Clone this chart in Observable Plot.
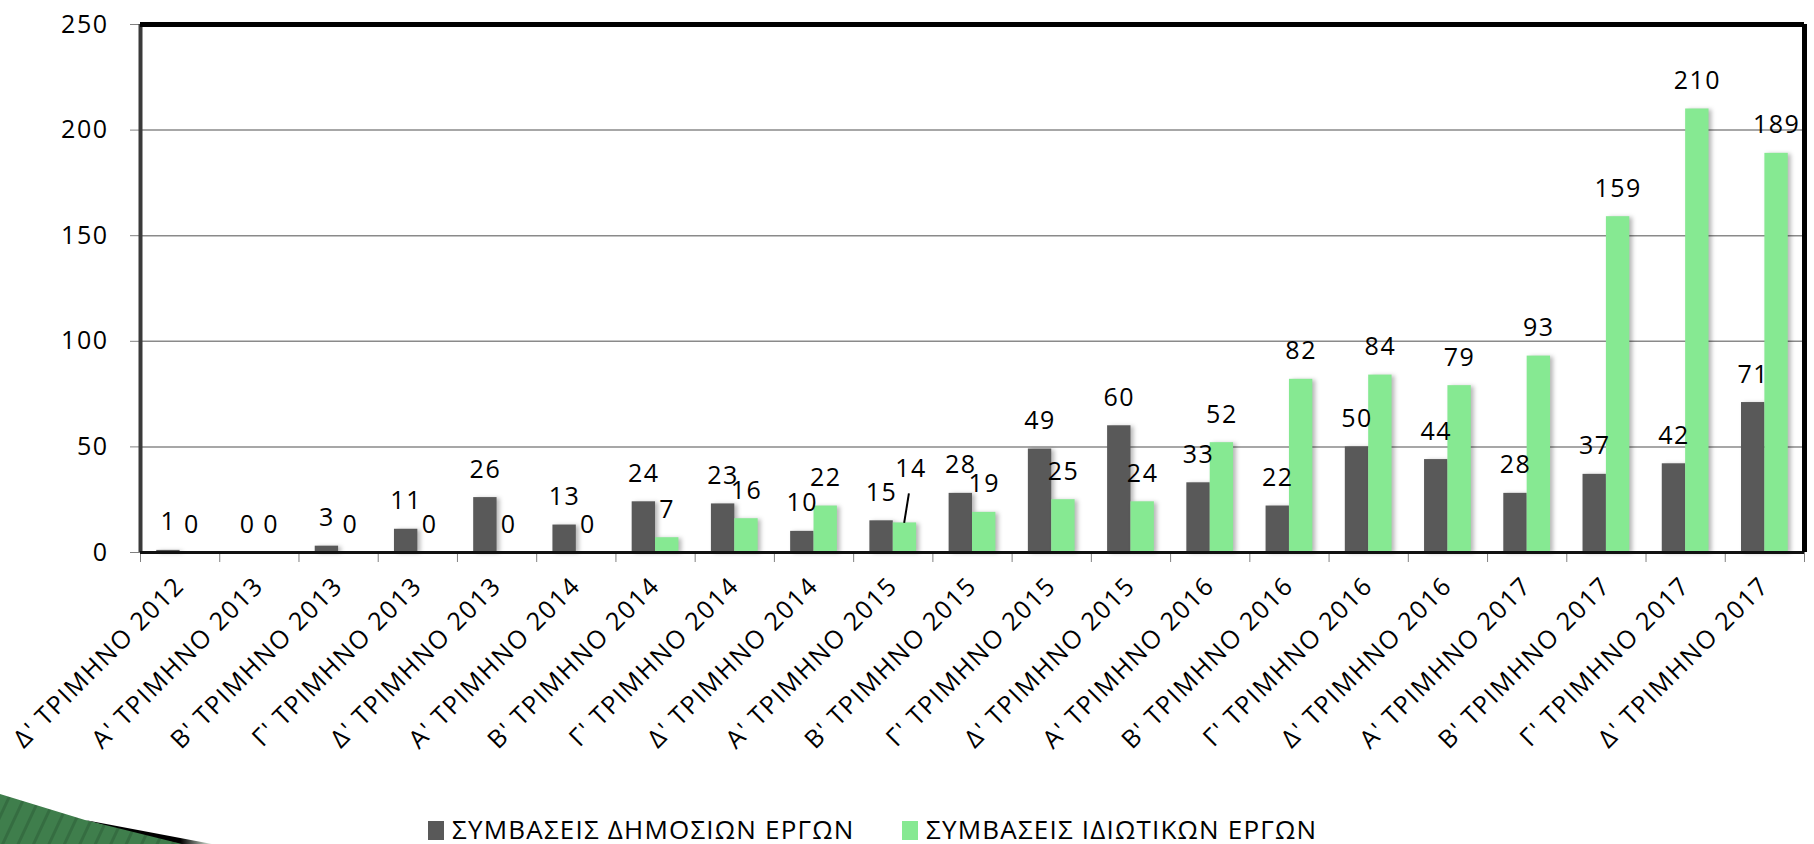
<!DOCTYPE html>
<html>
<head>
<meta charset="utf-8">
<script src="https://cdn.jsdelivr.net/npm/d3@7"></script>
<script src="https://cdn.jsdelivr.net/npm/@observablehq/plot@0.6"></script>
<style>
  html, body { margin: 0; padding: 0; background: #fff; overflow: hidden; }
  #wrap { position: relative; width: 1814px; height: 844px; font-family: "Open Sans", sans-serif; }
  #chart svg { display: block; }
  #chart text { letter-spacing: 1.5px; }
  #chart g[aria-label="x-axis tick label"] text { letter-spacing: 1.6px; }
  #chart g[aria-label="rect"] rect { filter: drop-shadow(3px 1px 2px rgba(0,0,0,0.28)); }
  #legend { position: absolute; left: 0; top: 815px; width: 1814px; height: 29px; }
  .item { position: absolute; top: 0; display: flex; align-items: center; height: 28px; }
  .sw { width: 16px; height: 19px; margin-right: 8px; margin-top: 2px; }
  .lt { font-size: 26px; line-height: 28px; letter-spacing: 1.2px; color: #000; white-space: nowrap; }
  #deco { position: absolute; left: 0; top: 780px; }
</style>
</head>
<body>
<div id="wrap">
  <div id="chart"></div>
  <div id="legend"></div>
  <svg id="deco" width="260" height="64" viewBox="0 0 260 64">
    <defs>
      <pattern id="stripes" width="14" height="14" patternUnits="userSpaceOnUse" patternTransform="rotate(25)">
        <rect width="14" height="14" fill="#3f7e4c"/>
        <rect width="3" height="14" fill="#356d41"/>
      </pattern>
      <linearGradient id="fade" x1="0" x2="1" y1="0" y2="0">
        <stop offset="0" stop-color="#000"/>
        <stop offset="0.75" stop-color="#000"/>
        <stop offset="1" stop-color="#dfeee0"/>
      </linearGradient>
    </defs>
    <polygon points="85,40 212,64 170,64" fill="url(#fade)"/>
    <polygon points="0,14 85,40 182,64 0,64" fill="url(#stripes)"/>
  </svg>
</div>
<script>
const categories = [
  "Δ' ΤΡΙΜΗΝΟ 2012",
  "Α' ΤΡΙΜΗΝΟ 2013", "Β' ΤΡΙΜΗΝΟ 2013", "Γ' ΤΡΙΜΗΝΟ 2013", "Δ' ΤΡΙΜΗΝΟ 2013",
  "Α' ΤΡΙΜΗΝΟ 2014", "Β' ΤΡΙΜΗΝΟ 2014", "Γ' ΤΡΙΜΗΝΟ 2014", "Δ' ΤΡΙΜΗΝΟ 2014",
  "Α' ΤΡΙΜΗΝΟ 2015", "Β' ΤΡΙΜΗΝΟ 2015", "Γ' ΤΡΙΜΗΝΟ 2015", "Δ' ΤΡΙΜΗΝΟ 2015",
  "Α' ΤΡΙΜΗΝΟ 2016", "Β' ΤΡΙΜΗΝΟ 2016", "Γ' ΤΡΙΜΗΝΟ 2016", "Δ' ΤΡΙΜΗΝΟ 2016",
  "Α' ΤΡΙΜΗΝΟ 2017", "Β' ΤΡΙΜΗΝΟ 2017", "Γ' ΤΡΙΜΗΝΟ 2017", "Δ' ΤΡΙΜΗΝΟ 2017"
];
const publicWorks  = [1, 0, 3, 11, 26, 13, 24, 23, 10, 15, 28, 49, 60, 33, 22, 50, 44, 28, 37, 42, 71];
const privateWorks = [0, 0, 0, 0, 0, 0, 7, 16, 22, 14, 19, 25, 24, 52, 82, 84, 79, 93, 159, 210, 189];
const seriesNames  = ["ΣΥΜΒΑΣΕΙΣ ΔΗΜΟΣΙΩΝ ΕΡΓΩΝ", "ΣΥΜΒΑΣΕΙΣ ΙΔΙΩΤΙΚΩΝ ΕΡΓΩΝ"];
const seriesColors = ["#595959", "#86E992"];
const yTicks = [0, 50, 100, 150, 200, 250];

// layout
const W = 1814, H = 813, plotBottom = 552;
const slots = [[0.205, 0.5], [0.5, 0.795]];
const mid = s => (slots[s][0] + slots[s][1]) / 2;
const nudged = {i: 9, s: 1}; // label moved up with a leader line in the original

const rows = categories.flatMap((c, i) => [
  {i, cat: c, s: 0, name: seriesNames[0], v: publicWorks[i]},
  {i, cat: c, s: 1, name: seriesNames[1], v: privateWorks[i]}
]);
const isNudged = d => d.i === nudged.i && d.s === nudged.s;

const chart = Plot.plot({
  width: W,
  height: H,
  marginLeft: 140,
  marginRight: 10,
  marginTop: 24,
  marginBottom: H - plotBottom,
  x: {domain: [0, categories.length], axis: null},
  y: {domain: [0, yTicks[yTicks.length - 1]], axis: null},
  color: {domain: seriesNames, range: seriesColors},
  style: {fontFamily: "'Open Sans', sans-serif", fontSize: "25px", color: "#000", background: "#fff", overflow: "visible"},
  marks: [
    Plot.ruleY(yTicks.slice(1, -1), {stroke: "#8a8a8a", strokeWidth: 1.5}),
    Plot.rectY(rows, {
      x1: d => d.i + slots[d.s][0],
      x2: d => d.i + slots[d.s][1],
      y1: 0,
      y2: "v",
      fill: "name"
    }),
    Plot.axisY({ticks: yTicks, tickSize: 10, tickPadding: 22, stroke: "#808080", fontSize: 25, label: null}),
    Plot.axisX({ticks: d3.range(categories.length + 1), tickSize: 10, tickFormat: () => "", stroke: "#808080", label: null}),
    Plot.axisX({
      ticks: categories.map((_, i) => i + 0.5),
      tickFormat: v => categories[Math.floor(v)],
      tickSize: 0,
      tickPadding: 29,
      tickRotate: -45,
      dx: 0,
      fontSize: 25,
      label: null
    }),
    Plot.ruleX([0], {stroke: "#3a3a3a", strokeWidth: 4}),
    Plot.ruleY([0], {stroke: "#111", strokeWidth: 3}),
    Plot.ruleY([yTicks[yTicks.length - 1]], {stroke: "#000", strokeWidth: 5}),
    Plot.ruleX([categories.length], {stroke: "#000", strokeWidth: 5}),
    Plot.text(rows.filter(d => !isNudged(d)), {
      x: d => d.i + mid(d.s),
      y: "v",
      text: d => String(d.v),
      lineAnchor: "bottom",
      dy: -20,
      fontSize: 25,
      fill: "#000"
    }),
    Plot.text(rows.filter(isNudged), {
      x: d => d.i + mid(d.s),
      y: "v",
      text: d => String(d.v),
      lineAnchor: "bottom",
      dy: -46,
      dx: 6,
      fontSize: 25,
      fill: "#000"
    }),
    Plot.link(rows.filter(isNudged), {
      x1: d => d.i + mid(d.s) - 0.01,
      y1: "v",
      x2: d => d.i + mid(d.s) + 0.05,
      y2: d => d.v * 2,
      stroke: "#000",
      strokeWidth: 2
    })
  ]
});
document.getElementById("chart").appendChild(chart);

// legend
const legendLefts = [428, 902];
const legend = document.getElementById("legend");
seriesNames.forEach((name, k) => {
  const item = document.createElement("div");
  item.className = "item";
  item.style.left = legendLefts[k] + "px";
  const sw = document.createElement("div");
  sw.className = "sw";
  sw.style.background = seriesColors[k];
  const lt = document.createElement("div");
  lt.className = "lt";
  lt.textContent = name;
  item.appendChild(sw);
  item.appendChild(lt);
  legend.appendChild(item);
});
</script>
</body>
</html>
